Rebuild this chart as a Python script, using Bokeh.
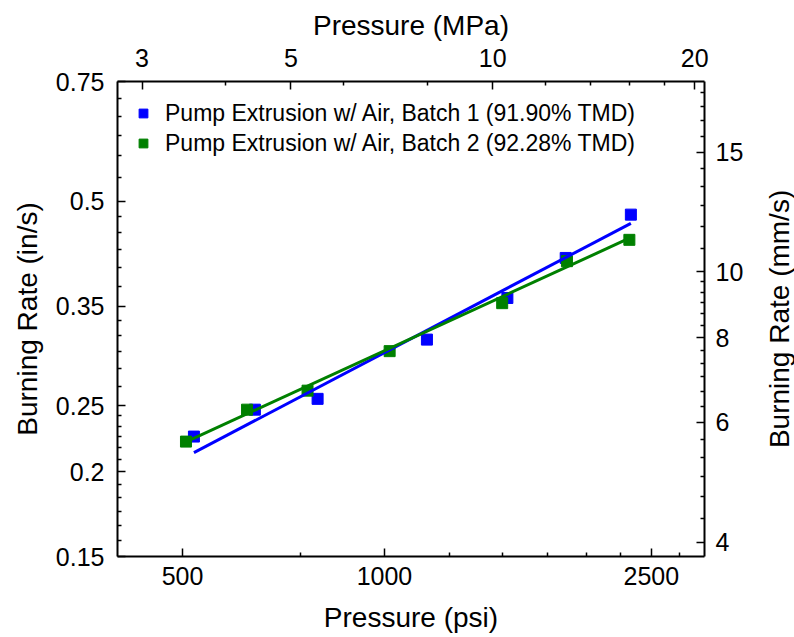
import math
from bokeh.plotting import figure
from bokeh.layouts import row
from bokeh.models import (LogAxis, Range1d, FixedTicker, CustomJSTickFormatter,
                          LogScale, Legend, LegendItem, Label, Grid)
from bokeh.embed import file_html
from bokeh.resources import INLINE

# ---------------- data ----------------
batch1_label = "Pump Extrusion w/ Air, Batch 1 (91.90% TMD)"
batch1_psi = [520, 641, 795, 1157, 1525, 1863, 2330]
batch1_rate = [0.2252, 0.2467, 0.2559, 0.3128, 0.3602, 0.4125, 0.4777]

batch2_label = "Pump Extrusion w/ Air, Batch 2 (92.28% TMD)"
batch2_psi = [506, 624, 768, 1018, 1498, 1871, 2318]
batch2_rate = [0.2214, 0.2467, 0.2631, 0.3008, 0.3539, 0.4080, 0.4386]

fit1_psi = [520, 2330]
fit1_rate = [0.2133, 0.4638]
fit2_psi = [506, 2318]
fit2_rate = [0.2212, 0.4410]

psi_range = [400, 3000]
rate_range = [0.15, 0.75]
psi_ticks = [500, 1000, 2500]
psi_minor = [750, 1250, 1500, 1750, 2000, 2250, 2750]
mpa_ticks = [3, 5, 10, 20]
mpa_minor = [4, 6, 8, 12, 14, 16, 18]
ins_ticks = [0.15, 0.2, 0.25, 0.35, 0.5, 0.75]
mms_ticks = [4, 6, 8, 10, 15]

PSI_TO_MPA = 0.00689476
IN_TO_MM = 25.4


def subdivide(majors, n, lo, hi, extend=True):
    out = []
    for a, b in zip(majors[:-1], majors[1:]):
        step = (b - a) / n
        out += [a + k * step for k in range(1, n)]
    if extend:
        s0 = (majors[1] - majors[0]) / n
        v = majors[0] - s0
        while v > lo:
            out.append(v)
            v -= s0
        s1 = (majors[-1] - majors[-2]) / n
        v = majors[-1] + s1
        while v < hi:
            out.append(v)
            v += s1
    return out


FONT = "Liberation Sans"
TICK_FS = "25px"
TITLE_FS = "28px"

p = figure(width=764, height=637, x_axis_type="log", y_axis_type="log",
           x_range=Range1d(*psi_range), y_range=Range1d(*rate_range),
           output_backend="svg", toolbar_location=None,
           min_border_left=117, min_border_right=60,
           min_border_top=81, min_border_bottom=81)
p.xgrid.visible = False
p.ygrid.visible = False
p.outline_line_color = None
p.background_fill_color = "white"
p.border_fill_color = "white"

bottom_axis = p.below[0]
left_axis = p.left[0]

mpa_lo, mpa_hi = psi_range[0] * PSI_TO_MPA, psi_range[1] * PSI_TO_MPA
mms_lo, mms_hi = rate_range[0] * IN_TO_MM, rate_range[1] * IN_TO_MM
p.extra_x_ranges = {"mpa": Range1d(mpa_lo, mpa_hi)}
p.extra_x_scales = {"mpa": LogScale()}
p.extra_y_ranges = {"mms": Range1d(mms_lo, mms_hi)}
p.extra_y_scales = {"mms": LogScale()}

fmt_code = "return String(tick);"

top_axis = LogAxis(x_range_name="mpa")
right_axis = LogAxis(y_range_name="mms")
p.add_layout(top_axis, "above")
p.add_layout(right_axis, "right")

bottom_axis.ticker = FixedTicker(ticks=psi_ticks, minor_ticks=psi_minor)
top_axis.ticker = FixedTicker(ticks=mpa_ticks, minor_ticks=mpa_minor)
left_axis.ticker = FixedTicker(ticks=ins_ticks,
                               minor_ticks=subdivide(ins_ticks, 6, rate_range[0], rate_range[1]))
right_axis.ticker = FixedTicker(ticks=mms_ticks,
                                minor_ticks=subdivide(mms_ticks, 6, mms_lo, mms_hi))

bottom_axis.axis_label = "Pressure (psi)"
top_axis.axis_label = "Pressure (MPa)"
left_axis.axis_label = "Burning Rate (in/s)"

for ax in (bottom_axis, top_axis, left_axis, right_axis):
    ax.formatter = CustomJSTickFormatter(code=fmt_code)
    ax.axis_line_color = "black"
    ax.axis_line_width = 2
    ax.major_tick_in = 8
    ax.major_tick_out = 0
    ax.minor_tick_in = 4
    ax.minor_tick_out = 0
    ax.major_tick_line_color = "black"
    ax.minor_tick_line_color = "black"
    ax.major_tick_line_width = 1.5
    ax.minor_tick_line_width = 1.5
    ax.major_label_text_font = FONT
    ax.major_label_text_font_size = TICK_FS
    ax.major_label_text_color = "black"
    ax.axis_label_text_font = FONT
    ax.axis_label_text_font_size = TITLE_FS
    ax.axis_label_text_font_style = "normal"
    ax.axis_label_text_color = "black"

left_axis.major_label_standoff = 13
left_axis.axis_label_standoff = 10
right_axis.major_label_standoff = 11
bottom_axis.major_label_standoff = 10
bottom_axis.axis_label_standoff = 14
top_axis.major_label_standoff = 15
top_axis.axis_label_standoff = 5

BLUE = "#0000ff"
GREEN = "#008000"

r1 = p.scatter(batch1_psi, batch1_rate, marker="square", size=11,
               fill_color=BLUE, line_color=BLUE)
r2 = p.scatter(batch2_psi, batch2_rate, marker="square", size=11,
               fill_color=GREEN, line_color=GREEN)
p.line(fit1_psi, fit1_rate, line_color=BLUE, line_width=3)
p.line(fit2_psi, fit2_rate, line_color=GREEN, line_width=3)

legend = Legend(items=[LegendItem(label=batch1_label, renderers=[r1]),
                       LegendItem(label=batch2_label, renderers=[r2])],
                location=(15, 398))
legend.border_line_color = None
legend.background_fill_alpha = 0
legend.label_text_font = FONT
legend.label_text_font_size = "23px"
legend.label_text_color = "black"
legend.glyph_width = 22
legend.glyph_height = 22
legend.label_height = 30
legend.label_standoff = 11
legend.spacing = 0
legend.padding = 5
legend.margin = 0
p.add_layout(legend)

# narrow companion panel carrying the right-hand axis title (reads bottom-to-top)
p2 = figure(width=30, height=637, x_range=Range1d(0, 1), y_range=Range1d(0, 1),
            output_backend="svg", toolbar_location=None,
            x_axis_location=None, y_axis_location=None, min_border=0)
for g in p2.select(type=Grid):
    g.visible = False
p2.outline_line_color = None
p2.background_fill_color = "white"
p2.border_fill_color = "white"
p2.add_layout(Label(x=0.5, y=1 - 318.4 / 637, text="Burning Rate (mm/s)",
                    angle=math.pi / 2, text_align="center", text_baseline="middle",
                    text_font=FONT, text_font_size=TITLE_FS, text_color="black"))

layout = row(p, p2, spacing=0)
open("out.html", "w").write(file_html(layout, INLINE))
